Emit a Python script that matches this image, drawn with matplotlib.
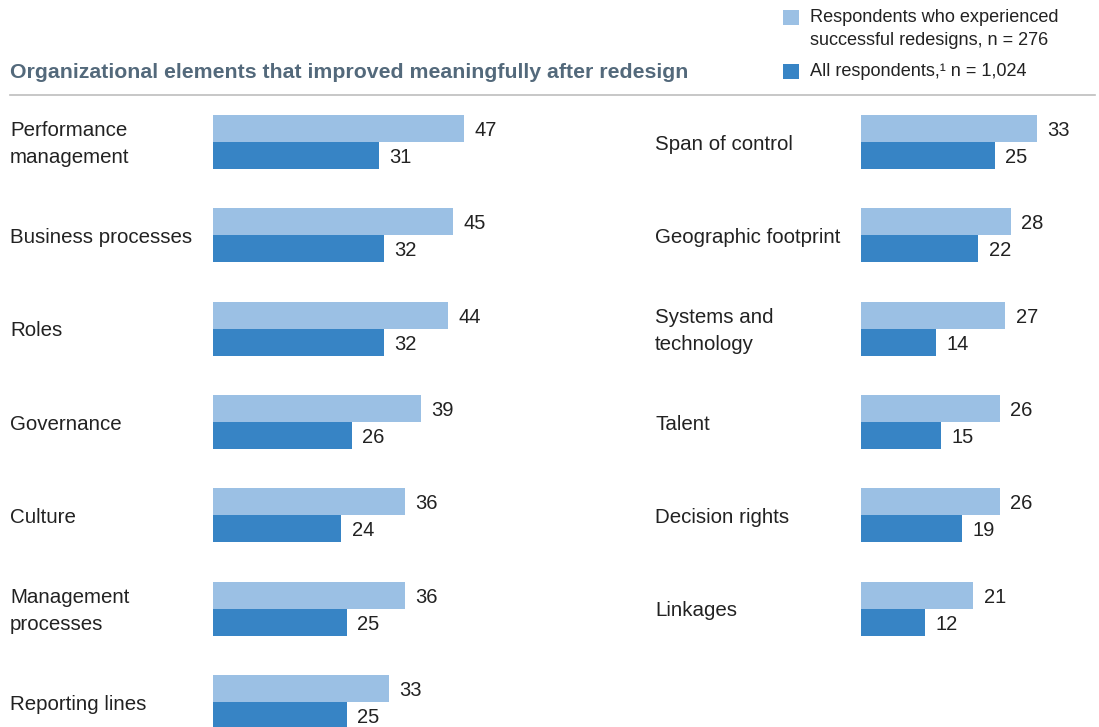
import matplotlib
matplotlib.use("Agg")
import matplotlib.pyplot as plt
from matplotlib.patches import Rectangle
from matplotlib.transforms import blended_transform_factory

plt.rcParams['font.family'] = ['Liberation Sans', 'DejaVu Sans']

left_labels = ["Performance\nmanagement", "Business processes", "Roles", "Governance",
               "Culture", "Management\nprocesses", "Reporting lines"]
left_success = [47, 45, 44, 39, 36, 36, 33]
left_all = [31, 32, 32, 26, 24, 25, 25]

right_labels = ["Span of control", "Geographic footprint", "Systems and\ntechnology", "Talent",
                "Decision rights", "Linkages"]
right_success = [33, 28, 27, 26, 26, 21]
right_all = [25, 22, 14, 15, 19, 12]

title = "Organizational elements that improved meaningfully after redesign"
legend_success = "Respondents who experienced\nsuccessful redesigns, n = 276"
legend_all = "All respondents,\u00b9 n = 1,024"

LIGHT = "#9bc0e4"
DARK = "#3784c5"
TEXT = "#222222"
TITLE_C = "#53697b"

W, H = 1099, 727
fig = plt.figure(figsize=(W / 100, H / 100), dpi=100)

px_per_unit = 5.34
row_px = 93.33
first_center = 142.0
bar_h = 27 / row_px
ytop = -first_center / row_px
ybot = (H - first_center) / row_px
FS = 14.8
VFS = 14.5


def make_axes(x0_px, x1_px):
    ax = fig.add_axes([x0_px / W, 0, (x1_px - x0_px) / W, 1])
    ax.set_xlim(0, (x1_px - x0_px) / px_per_unit)
    ax.set_ylim(ybot, ytop)
    ax.axis("off")
    return ax


def draw(ax, labels, succ, allr, label_x_px):
    rows = list(range(len(labels)))
    ax.barh([r - bar_h / 2 for r in rows], succ, height=bar_h, color=LIGHT, align="center")
    ax.barh([r + bar_h / 2 for r in rows], allr, height=bar_h, color=DARK, align="center")
    tr = blended_transform_factory(fig.transFigure, ax.transData)
    for r, lab, s, a in zip(rows, labels, succ, allr):
        ax.annotate(lab, (label_x_px / W, r), xycoords=tr, xytext=(0, -1.5),
                    textcoords="offset points", ha="left", va="center",
                    fontsize=FS, color=TEXT, linespacing=1.52)
        ax.annotate(str(s), (s, r - bar_h / 2), xytext=(7.5, -1.5), textcoords="offset points",
                    ha="left", va="center", fontsize=VFS, color=TEXT)
        ax.annotate(str(a), (a, r + bar_h / 2), xytext=(7.5, -1.5), textcoords="offset points",
                    ha="left", va="center", fontsize=VFS, color=TEXT)


axl = make_axes(213, 560)
draw(axl, left_labels, left_success, left_all, 10)
axr = make_axes(861, 1099)
draw(axr, right_labels, right_success, right_all, 655)

# title and rule
fig.text(10 / W, 1 - 72 / H, title, ha="left", va="center", fontsize=15.3,
         fontweight="bold", color=TITLE_C)
fig.add_artist(plt.Line2D([10 / W, 1095 / W], [1 - 95 / H, 1 - 95 / H],
                          transform=fig.transFigure, color="#bdbdbd", lw=1.2))

# legend
fig.add_artist(Rectangle((783 / W, 1 - 25 / H), 16 / W, 15 / H, transform=fig.transFigure,
                         facecolor=LIGHT, edgecolor="none"))
fig.add_artist(Rectangle((783 / W, 1 - 79 / H), 16 / W, 15 / H, transform=fig.transFigure,
                         facecolor=DARK, edgecolor="none"))
fig.text(810 / W, 1 - 29 / H, legend_success, ha="left", va="center", fontsize=13.1,
         color=TEXT, linespacing=1.42)
fig.text(810 / W, 1 - 71.5 / H, legend_all, ha="left", va="center", fontsize=13.1, color=TEXT)

fig.savefig("out.png", dpi=100)
